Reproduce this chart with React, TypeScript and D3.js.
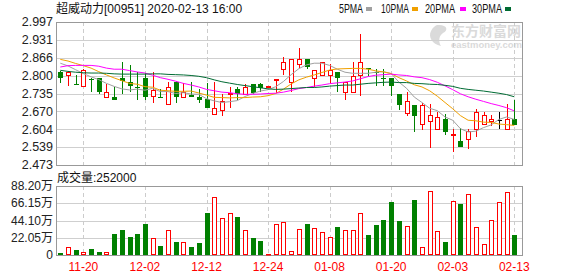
import React from "react";
import * as d3 from "d3";

const dates = ["11-15","11-18","11-19","11-20","11-21","11-22","11-25","11-26","11-27","11-28","11-29","12-02","12-03","12-04","12-05","12-06","12-09","12-10","12-11","12-12","12-13","12-16","12-17","12-18","12-19","12-20","12-23","12-24","12-27","12-30","12-31","01-02","01-03","01-06","01-07","01-08","01-09","01-10","01-13","01-14","01-15","01-16","01-17","01-20","01-21","01-22","01-23","01-24","01-29","01-30","01-31","02-03","02-04","02-05","02-06","02-07","02-10","02-11","02-12","02-13"];

const opens = [2.812,2.804,2.771,2.764,2.789,2.790,2.723,2.721,2.790,2.778,2.758,2.790,2.725,2.722,2.695,2.778,2.723,2.730,2.721,2.715,2.661,2.673,2.735,2.750,2.735,2.771,2.771,2.761,2.788,2.824,2.776,2.842,2.863,2.792,2.804,2.804,2.812,2.742,2.742,2.802,2.829,2.813,2.791,2.790,2.734,2.664,2.694,2.624,2.633,2.604,2.643,2.582,2.562,2.570,2.604,2.624,2.633,2.639,2.604,2.640];
const highs = [2.818,2.816,2.802,2.824,2.790,2.790,2.770,2.758,2.851,2.841,2.812,2.810,2.812,2.752,2.778,2.782,2.773,2.778,2.752,2.772,2.778,2.733,2.760,2.760,2.769,2.771,2.773,2.762,2.789,2.870,2.863,2.903,2.863,2.821,2.851,2.842,2.812,2.778,2.851,2.954,2.829,2.824,2.824,2.790,2.734,2.740,2.694,2.700,2.697,2.667,2.661,2.606,2.609,2.606,2.677,2.669,2.655,2.669,2.697,2.713];
const lows = [2.772,2.764,2.770,2.764,2.740,2.733,2.723,2.713,2.733,2.740,2.713,2.713,2.701,2.721,2.695,2.701,2.723,2.723,2.700,2.683,2.661,2.651,2.681,2.713,2.735,2.733,2.740,2.761,2.737,2.802,2.740,2.828,2.824,2.760,2.804,2.770,2.740,2.712,2.742,2.727,2.800,2.764,2.764,2.725,2.673,2.651,2.594,2.600,2.534,2.604,2.582,2.521,2.540,2.531,2.576,2.624,2.616,2.604,2.604,2.621];
const closes = [2.790,2.812,2.770,2.822,2.788,2.740,2.740,2.713,2.781,2.764,2.756,2.723,2.748,2.721,2.760,2.723,2.740,2.723,2.712,2.683,2.681,2.709,2.738,2.733,2.760,2.737,2.754,2.762,2.789,2.851,2.863,2.863,2.833,2.821,2.851,2.822,2.792,2.778,2.800,2.851,2.824,2.812,2.790,2.764,2.694,2.709,2.651,2.694,2.658,2.649,2.594,2.588,2.540,2.597,2.667,2.658,2.640,2.639,2.640,2.621];

const ma5 = [2.846,2.836,2.822,2.808,2.796,2.786,2.772,2.761,2.752,2.748,2.751,2.747,2.754,2.742,2.742,2.735,2.738,2.733,2.732,2.716,2.708,2.702,2.705,2.709,2.724,2.735,2.744,2.749,2.760,2.779,2.804,2.826,2.840,2.846,2.846,2.838,2.824,2.813,2.809,2.809,2.809,2.813,2.815,2.808,2.777,2.754,2.722,2.702,2.681,2.672,2.649,2.637,2.606,2.594,2.597,2.610,2.620,2.640,2.649,2.640];
const ma10 = [2.860,2.854,2.845,2.837,2.828,2.815,2.803,2.792,2.782,2.772,2.769,2.760,2.758,2.747,2.745,2.743,2.743,2.744,2.737,2.729,2.721,2.720,2.719,2.720,2.720,2.722,2.723,2.727,2.735,2.751,2.770,2.785,2.795,2.803,2.812,2.821,2.825,2.826,2.827,2.827,2.824,2.818,2.814,2.808,2.793,2.781,2.767,2.759,2.745,2.725,2.702,2.679,2.654,2.637,2.635,2.630,2.629,2.623,2.621,2.618];
const ma20 = [2.832,2.837,2.838,2.838,2.838,2.835,2.828,2.824,2.824,2.819,2.814,2.810,2.802,2.793,2.787,2.780,2.772,2.766,2.759,2.750,2.745,2.740,2.738,2.734,2.732,2.732,2.733,2.735,2.736,2.740,2.746,2.753,2.757,2.762,2.766,2.771,2.774,2.777,2.781,2.789,2.797,2.802,2.804,2.806,2.803,2.801,2.796,2.793,2.786,2.776,2.763,2.749,2.734,2.723,2.714,2.706,2.698,2.691,2.683,2.671];
const ma30 = [2.820,2.816,2.813,2.811,2.810,2.810,2.809,2.807,2.806,2.806,2.806,2.806,2.807,2.807,2.805,2.804,2.803,2.801,2.798,2.793,2.785,2.778,2.773,2.768,2.764,2.760,2.756,2.752,2.750,2.751,2.753,2.755,2.757,2.757,2.759,2.762,2.764,2.766,2.766,2.769,2.772,2.774,2.776,2.777,2.775,2.775,2.772,2.771,2.769,2.768,2.765,2.761,2.754,2.750,2.747,2.744,2.740,2.736,2.731,2.723];

// volume in 万 (10k shares)
const volumes = [2.5,9.8,6.4,3.4,7.6,4.2,3.8,26.7,31.4,22.9,26.7,39.9,21.2,11.4,31.4,17.0,16.5,10.2,15.3,53.4,73.8,47.9,54.3,48.3,31.4,21.6,17.8,1.3,39.0,42.8,4.7,32.6,39.4,34.3,28.8,22.9,35.6,31.8,31.4,54.3,25.4,38.2,44.5,67.4,43.2,37.7,70.0,9.8,81.4,30.5,16.5,69.5,64.9,78.4,35.2,13.6,44.5,68.3,81.0,25.2];

const priceTicks = [2.997,2.931,2.866,2.800,2.735,2.670,2.604,2.539,2.473];
const priceTickLabels = ["2.997","2.931","2.866","2.800","2.735","2.670","2.604","2.539","2.473"];
const volTicks = [88.2,66.15,44.1,22.05,0];
const volTickLabels = ["88.20万","66.15万","44.10万","22.05万","0"];
const dateTicks = ["11-20","12-02","12-12","12-24","01-08","01-20","02-03","02-13"];

const maNames = ["5PMA","10PMA","20PMA","30PMA"];
const maColors = ["#a0a0a0","#f0a000","#ff00ff","#006b33"];

const title = "超威动力[00951] 2020-02-13 16:00";
const volTitle = "成交量:252000";

const W = 578, H = 276;
const L = 56, R = 522;
const PT = 22, PB = 165, VT = 186, VB = 255;
const FONT = "'Liberation Sans', Arial, 'Noto Sans CJK SC', sans-serif";
const UP = "#ff0000", DOWN = "#008000", FLAT = "#000000";

export default function App() {
  const x = d3.scalePoint<string>().domain(dates).range([60.3, 514.3]);
  const y = d3.scaleLinear().domain([2.473, 2.997]).range([PB, PT]);
  const yv = d3.scaleLinear().domain([0, 88.2]).range([VB, VT]);
  const mas = [ma5, ma10, ma20, ma30];
  const line = d3.line<number>().x((_, i) => x(dates[i])!).y((d) => y(d));
  const bw = 5;

  const legX = [339, 381, 425, 472];
  const legW = [24, 28, 30, 30];
  const legSq = [366, 412, 460, 505];

  return (
    <svg width={W} height={H} style={{ position: "absolute", left: 0, top: 0, background: "#fff" }} fontFamily={FONT}>
      <rect x={0} y={0} width={W} height={H} fill="#fff" />
      {/* watermark */}
      <g fill="#dadada" fontWeight="bold">
        <path d="M437,25 C447,24 449,30 443,33 C439,36 438,41 441,46 C432,44 428,37 431,31 C433,27 435,26 437,25 Z" />
        <text x={451} y={36} fontSize={13.5} fontFamily="'Noto Sans CJK SC', sans-serif" textLength={70} lengthAdjust="spacingAndGlyphs">东方财富网</text>
        <text x={451} y={48} fontSize={9} textLength={71} lengthAdjust="spacingAndGlyphs">eastmoney.com</text>
      </g>

      {/* price grid */}
      {priceTicks.map((t, i) => (
        <line key={"pg" + i} x1={L} x2={R} y1={Math.round(y(t)) + 0.5} y2={Math.round(y(t)) + 0.5} stroke="#cfcfcf" />
      ))}
      {volTicks.map((t, i) => (
        <line key={"vg" + i} x1={L} x2={R} y1={Math.round(yv(t)) + 0.5} y2={Math.round(yv(t)) + 0.5} stroke="#cfcfcf" />
      ))}
      {dateTicks.map((d, i) => {
        const xx = Math.round(x(d)!) + 0.5;
        return (
          <g key={"dg" + i}>
            <line x1={xx} x2={xx} y1={PT} y2={PB} stroke="#cccccc" strokeDasharray="4,3" />
            <line x1={xx} x2={xx} y1={VT} y2={VB} stroke="#cccccc" strokeDasharray="4,3" />
          </g>
        );
      })}

      {/* frames */}
      <rect x={L + 0.5} y={PT + 0.5} width={R - L} height={PB - PT} fill="none" stroke="#999" />
      <rect x={L + 0.5} y={VT + 0.5} width={R - L} height={VB - VT} fill="none" stroke="#999" />

      {/* candles */}
      {dates.map((d, i) => {
        const o = opens[i], c = closes[i], h = highs[i], l = lows[i];
        const cx = Math.round(x(d)!) + 0.5;
        const col = c > o ? UP : c < o ? DOWN : FLAT;
        const top = Math.round(y(Math.max(o, c)));
        const bot = Math.round(y(Math.min(o, c)));
        const hh = Math.max(bot - top, 1);
        return (
          <g key={"c" + i}>
            <line x1={cx} x2={cx} y1={Math.round(y(h))} y2={Math.round(y(l))} stroke={col} />
            {c > o ? (
              <rect x={cx - 2} y={top + 0.5} width={4} height={hh} fill="#fff" stroke={col} />
            ) : (
              <rect x={cx - 2.5} y={top} width={bw} height={hh} fill={col} />
            )}
          </g>
        );
      })}

      {/* moving averages */}
      {mas.map((m, k) => (
        <path key={"ma" + k} d={line(m) || ""} fill="none" stroke={maColors[k]} strokeWidth={1} />
      ))}

      {/* volume bars */}
      {dates.map((d, i) => {
        const up = closes[i] >= opens[i];
        const cx = Math.round(x(d)!) + 0.5;
        const top = Math.round(yv(volumes[i]));
        return up ? (
          <rect key={"v" + i} x={cx - 2} y={top + 0.5} width={4} height={Math.max(VB - top - 1, 0.5)} fill="#fff" stroke={UP} />
        ) : (
          <rect key={"v" + i} x={cx - 2.5} y={top} width={bw} height={VB - top} fill={DOWN} />
        );
      })}

      {/* axis labels */}
      {priceTicks.map((t, i) => (
        <text key={"pl" + i} x={53} y={y(t)} dy="0.35em" textAnchor="end" fontSize={12.5} fill="#222">{priceTickLabels[i]}</text>
      ))}
      {volTicks.map((t, i) => (
        <text key={"vl" + i} x={53} y={yv(t)} dy="0.35em" textAnchor="end" fontSize={12} fill="#222">{volTickLabels[i]}</text>
      ))}
      {dateTicks.map((d, i) => (
        <text key={"xl" + i} x={x(d)!} y={271} textAnchor="middle" fontSize={12} fill="#ff0000">{d}</text>
      ))}

      {/* titles */}
      <text x={56} y={13} fontSize={12} fill="#111">{title}</text>
      <text x={57} y={182} fontSize={12} fill="#111">{volTitle}</text>

      {/* legend */}
      {maNames.map((n, k) => (
        <g key={"lg" + k}>
          <text x={legX[k]} y={13} fontSize={12} fill="#111" textLength={legW[k]} lengthAdjust="spacingAndGlyphs">{n}</text>
          <rect x={legSq[k]} y={7} width={6} height={4} fill={maColors[k]} />
        </g>
      ))}
    </svg>
  );
}
